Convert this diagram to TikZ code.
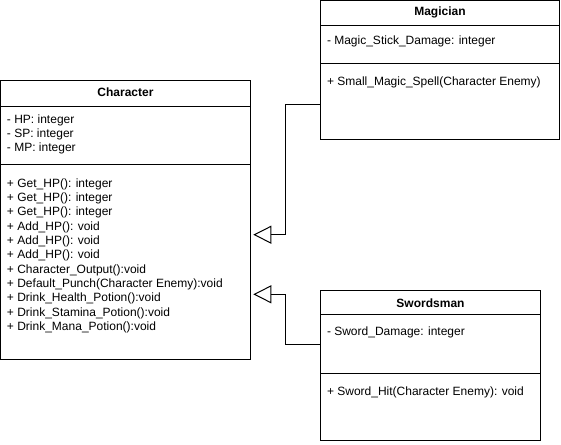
\documentclass[tikz,border=0pt]{standalone}
\usepackage{fontspec}
\setmainfont{Liberation Sans}
\usetikzlibrary{arrows.meta}

\begin{document}
\begin{tikzpicture}[x=0.75pt, y=-0.75pt, line width=0.75pt,
    part/.style={draw=black, rectangle, inner sep=0pt, outer sep=0pt, anchor=north west},
    title/.style={font=\fontsize{9}{10.75}\selectfont\bfseries},
    entry/.style={font=\fontsize{9}{10.75}\selectfont, align=left, anchor=north west, inner xsep=4.5pt, inner ysep=4pt},
    inherit/.style={-{Triangle[open, length=13.5pt, width=13.5pt]}}]
      \useasboundingbox (0,0) rectangle (561,444);

      % Character
      \node[part, minimum width=187.5pt, minimum height=20pt](charhead) at (0.5,80.0){};
      \node[part, minimum width=187.5pt, minimum height=43pt](charattr) at (charhead.south west){};
      \node[part, minimum width=187.5pt, minimum height=146.25pt](charmeth) at (charattr.south west){};
      \node[title](charname) at ([yshift=0.75pt]charhead){Character};
      \node[entry, inner ysep=5.5pt](charattrtxt) at (charattr.north west){- HP: integer\\- SP: integer\\- MP: integer};
      \node[entry, inner ysep=10.5pt](charmethtxt) at (charmeth.north west){+ Get\_HP(): integer\\+ Get\_HP(): integer\\+ Get\_HP(): integer\\+ Add\_HP(): void\\+ Add\_HP(): void\\+ Add\_HP(): void\\+ Character\_Output():void\\+ Default\_Punch(Character Enemy):void\\+ Drink\_Health\_Potion():void\\+ Drink\_Stamina\_Potion():void\\+ Drink\_Mana\_Potion():void};

      % Magician
      \node[part, minimum width=179.25pt, minimum height=18.4pt](maghead) at (320.5,0.5){};
      \node[part, minimum width=179.25pt, minimum height=28.7pt](magattr) at (maghead.south west){};
      \node[part, minimum width=179.25pt, minimum height=57pt](magmeth) at (magattr.south west){};
      \node[title](magname) at (maghead){Magician};
      \node[entry, inner ysep=8pt](magattrtxt) at (magattr.north west){- Magic\_Stick\_Damage: integer};
      \node[entry, inner ysep=10pt](magmethtxt) at (magmeth.north west){+ Small\_Magic\_Spell(Character Enemy)};

      % Swordsman
      \node[part, minimum width=165pt, minimum height=18.2pt](swordhead) at (320.5,290.7){};
      \node[part, minimum width=165pt, minimum height=44.25pt](swordattr) at (swordhead.south west){};
      \node[part, minimum width=165pt, minimum height=50pt](swordmeth) at (swordattr.south west){};
      \node[title](swordname) at (swordhead){Swordsman};
      \node[entry, inner ysep=8.25pt](swordattrtxt) at (swordattr.north west){- Sword\_Damage: integer};
      \node[entry, inner ysep=9.5pt](swordmethtxt) at (swordmeth.north west){+ Sword\_Hit(Character Enemy): void};

      % inheritance
      \coordinate(tipA) at (253.3,234.7);
      \coordinate(bendA) at (285.0,234.7);
      \coordinate(tipB) at (253.3,294.3);
      \coordinate(bendB) at (285.0,294.3);
      \draw[inherit] ([yshift=-2.25pt]magmeth.west) -| (bendA) -- (tipA);
      \draw[inherit] (swordattr.west) -| (bendB) -- (tipB);
    \end{tikzpicture}
\end{document}
